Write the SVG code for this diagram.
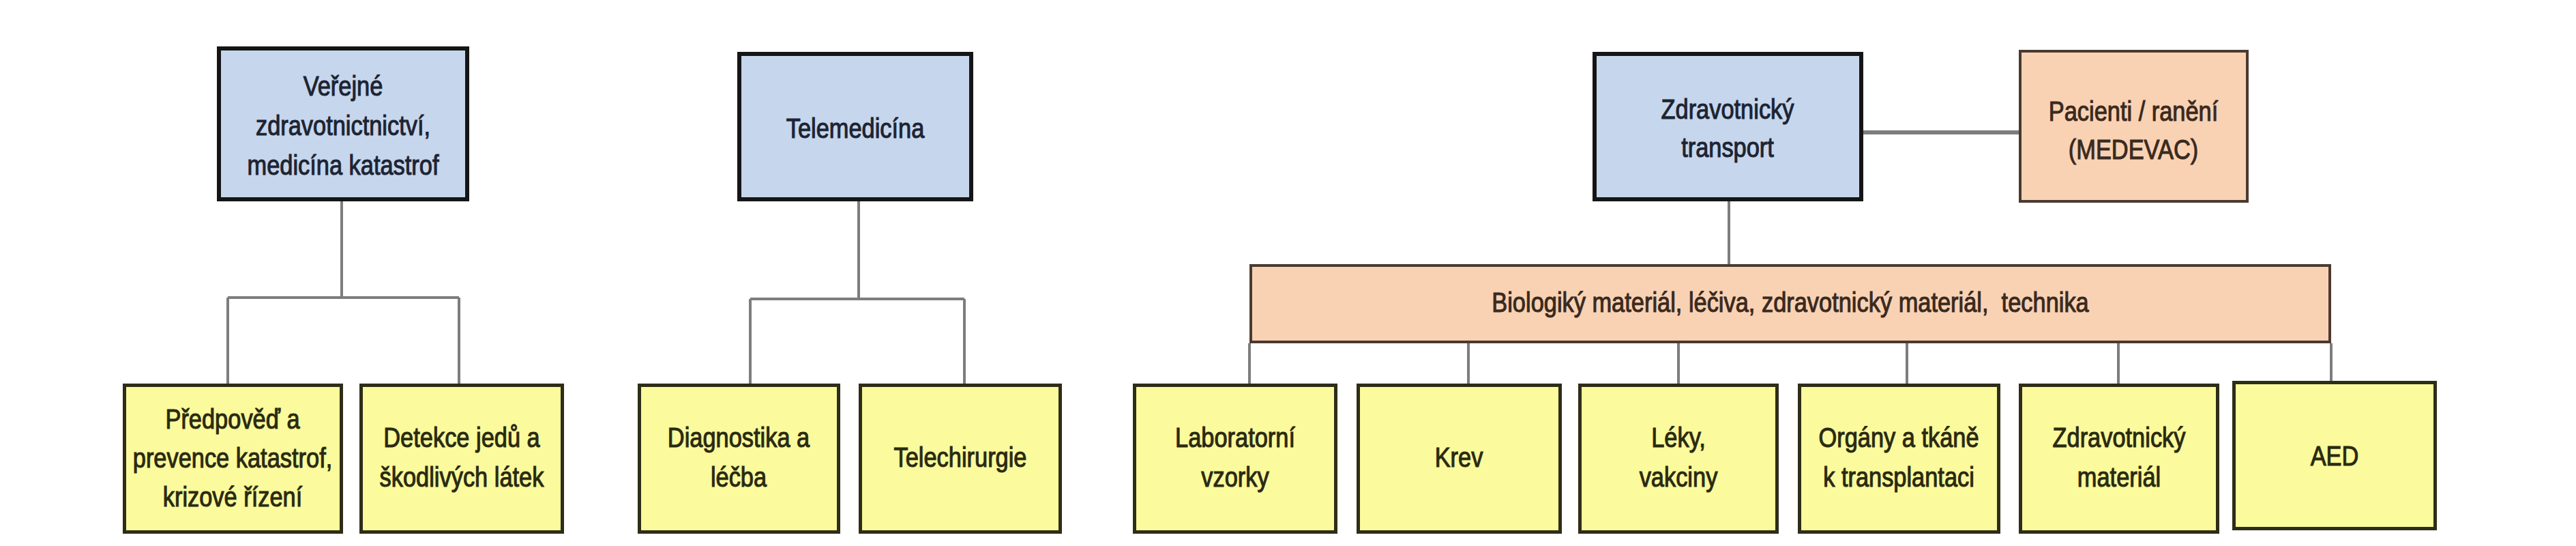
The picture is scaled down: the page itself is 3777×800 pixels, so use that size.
<svg xmlns="http://www.w3.org/2000/svg" width="3777" height="800" viewBox="0 0 3777 800">
<style>
.bg{fill:#ffffff}
.blue{fill:#c6d6ec;stroke:#151515;stroke-width:6}
.yel{fill:#fbfa9c;stroke:#2e2d18;stroke-width:5}
.ora{fill:#f9d2b4;stroke:#4a3a30;stroke-width:4}
.con{stroke:#7d7d7d;stroke-width:4;fill:none}
.t{font-family:"Liberation Sans",Arial,sans-serif;font-size:40px;text-anchor:middle;stroke-width:1.1px}
.tb{fill:#1c2433;stroke:#1c2433}
.ty{fill:#2a2a10;stroke:#2a2a10}
.to{fill:#3a2a1e;stroke:#3a2a1e}
</style>
<rect class="bg" x="0" y="0" width="3777" height="800"/>
<g id="connectors">
<path class="con" d="M501 295 V436 M334 436 H673 M334 436 V562 M673 436 V562"/>
<path class="con" d="M1259 295 V438 M1100 438 H1414 M1100 438 V563 M1414 438 V563"/>
<path class="con" d="M2535 295 V387"/>
<path class="con" style="stroke-width:6" d="M2732 194 H2960"/>
<path class="con" d="M1832 503 V562 M2153 503 V562 M2461 503 V562 M2796 503 V562 M3106 503 V562 M3418 503 V558"/>
</g>
<g id="n-verejne">
<rect class="blue" x="321" y="71" width="364" height="221"/>
<text class="t tb" transform="translate(503 0) scale(0.86 1)"><tspan x="0" y="140">Veřejné</tspan><tspan x="0" y="198">zdravotnictnictví,</tspan><tspan x="0" y="256">medicína katastrof</tspan></text>
</g>
<g id="n-telemedicina">
<rect class="blue" x="1084" y="79" width="340" height="213"/>
<text class="t tb" transform="translate(1254 0) scale(0.86 1)" x="0" y="202">Telemedicína</text>
</g>
<g id="n-transport">
<rect class="blue" x="2338" y="79" width="391" height="213"/>
<text class="t tb" transform="translate(2533 0) scale(0.86 1)"><tspan x="0" y="174">Zdravotnický</tspan><tspan x="0" y="230">transport</tspan></text>
</g>
<g id="n-pacienti">
<rect class="ora" x="2962" y="75" width="333" height="220"/>
<text class="t to" transform="translate(3128 0) scale(0.86 1)"><tspan x="0" y="177">Pacienti / ranění</tspan><tspan x="0" y="233">(MEDEVAC)</tspan></text>
</g>
<g id="n-material-bar">
<rect class="ora" x="1834" y="389" width="1582" height="112"/>
<text class="t to" xml:space="preserve" transform="translate(2625 0) scale(0.86 1)" x="0" y="457">Biologiký materiál, léčiva, zdravotnický materiál,  technika</text>
</g>
<g id="n-predpoved">
<rect class="yel" x="182.5" y="564.5" width="318" height="215"/>
<text class="t ty" transform="translate(341 0) scale(0.86 1)"><tspan x="0" y="628">Předpověď a</tspan><tspan x="0" y="685">prevence katastrof,</tspan><tspan x="0" y="742">krizové řízení</tspan></text>
</g>
<g id="n-detekce">
<rect class="yel" x="529.5" y="564.5" width="295" height="215"/>
<text class="t ty" transform="translate(677 0) scale(0.86 1)"><tspan x="0" y="655">Detekce jedů a</tspan><tspan x="0" y="713">škodlivých látek</tspan></text>
</g>
<g id="n-diagnostika">
<rect class="yel" x="937.5" y="564.5" width="292" height="215"/>
<text class="t ty" transform="translate(1083 0) scale(0.86 1)"><tspan x="0" y="655">Diagnostika a</tspan><tspan x="0" y="713">léčba</tspan></text>
</g>
<g id="n-telechirurgie">
<rect class="yel" x="1261.5" y="564.5" width="293" height="215"/>
<text class="t ty" transform="translate(1408 0) scale(0.86 1)" x="0" y="684">Telechirurgie</text>
</g>
<g id="n-laboratorni">
<rect class="yel" x="1663.5" y="564.5" width="295" height="215"/>
<text class="t ty" transform="translate(1811 0) scale(0.86 1)"><tspan x="0" y="655">Laboratorní</tspan><tspan x="0" y="713">vzorky</tspan></text>
</g>
<g id="n-krev">
<rect class="yel" x="1991.5" y="564.5" width="296" height="215"/>
<text class="t ty" transform="translate(2139 0) scale(0.86 1)" x="0" y="684">Krev</text>
</g>
<g id="n-leky">
<rect class="yel" x="2316.5" y="564.5" width="289" height="215"/>
<text class="t ty" transform="translate(2461 0) scale(0.86 1)"><tspan x="0" y="655">Léky,</tspan><tspan x="0" y="713">vakciny</tspan></text>
</g>
<g id="n-organy">
<rect class="yel" x="2638.5" y="564.5" width="292" height="215"/>
<text class="t ty" transform="translate(2784 0) scale(0.86 1)"><tspan x="0" y="655">Orgány a tkáně</tspan><tspan x="0" y="713">k transplantaci</tspan></text>
</g>
<g id="n-zdravmaterial">
<rect class="yel" x="2962.5" y="564.5" width="289" height="215"/>
<text class="t ty" transform="translate(3107 0) scale(0.86 1)"><tspan x="0" y="655">Zdravotnický</tspan><tspan x="0" y="713">materiál</tspan></text>
</g>
<g id="n-aed">
<rect class="yel" x="3275.5" y="560.5" width="295" height="214"/>
<text class="t ty" transform="translate(3423 0) scale(0.86 1)" x="0" y="682">AED</text>
</g>
</svg>
